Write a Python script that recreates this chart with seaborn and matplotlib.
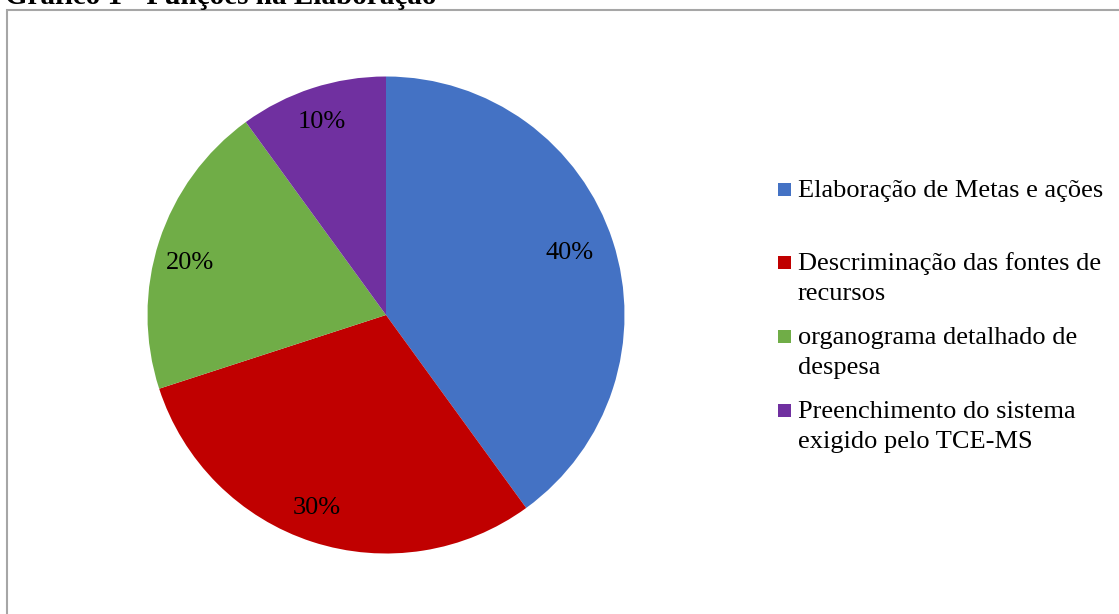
import matplotlib
matplotlib.use("Agg")
import matplotlib.pyplot as plt
from matplotlib.patches import Rectangle
import seaborn as sns

# Chart data
categories = [
    "Elaboração de Metas e ações",
    "Descriminação das fontes de\nrecursos",
    "organograma detalhado de\ndespesa",
    "Preenchimento do sistema\nexigido pelo TCE-MS",
]
shares = [40, 30, 20, 10]
colors = ["#4472C4", "#C00000", "#70AD47", "#7030A0"]
title = "Gráfico 1 - Funções na Elaboração"

# Percentage label anchors (in units of the pie radius)
label_xy = [(0.77, 0.26), (-0.29, -0.81), (-0.82, 0.22), (-0.27, 0.81)]

sns.set_theme(style="white")
plt.rcParams["font.family"] = ["Liberation Serif", "DejaVu Serif"]

W, H = 1119, 614
fig = plt.figure(figsize=(W / 100, H / 100), dpi=100)
fig.patch.set_facecolor("white")

# Chart frame (extends past the right and bottom edges)
fig.patches.append(Rectangle((7 / W, -0.1), 1.2, (H - 10) / H + 0.1,
                             transform=fig.transFigure, fill=False,
                             edgecolor="#A6A6A6", linewidth=1.5))

fig.text(5 / W, 1 - 4 / H, title, fontsize=21, fontweight="bold",
         ha="left", va="baseline", color="black")

cx, cy, r = 386, 315, 238.5
ax = fig.add_axes([(cx - r) / W, (H - cy - r) / H, 2 * r / W, 2 * r / H])
wedges, texts, autotexts = ax.pie(
    shares, colors=colors, startangle=90, counterclock=False,
    autopct=lambda p: f"{p:.0f}%", radius=1,
    wedgeprops=dict(linewidth=0),
    textprops=dict(fontsize=19, color="black"),
)
for t, (x, y) in zip(autotexts, label_xy):
    t.set_position((x, y))
    t.set_ha("center")
    t.set_va("center")
ax.set_xlim(-1, 1)
ax.set_ylim(-1, 1)
ax.set_aspect("equal")
ax.axis("off")

# Legend: square key plus wrapped label, one entry per slice
leg_baseline = [197, 270, 344, 418]
line_pitch = 30
sq = 13
for name, col, yb in zip(categories, colors, leg_baseline):
    fig.patches.append(Rectangle((778 / W, (H - (yb - 8) - sq / 2) / H), sq / W, sq / H,
                                 transform=fig.transFigure, facecolor=col,
                                 edgecolor="none"))
    for k, line in enumerate(name.split("\n")):
        fig.text(798 / W, (H - yb - k * line_pitch) / H, line, fontsize=19,
                 ha="left", va="baseline", color="black")

fig.savefig("out.png", dpi=100, facecolor="white")
